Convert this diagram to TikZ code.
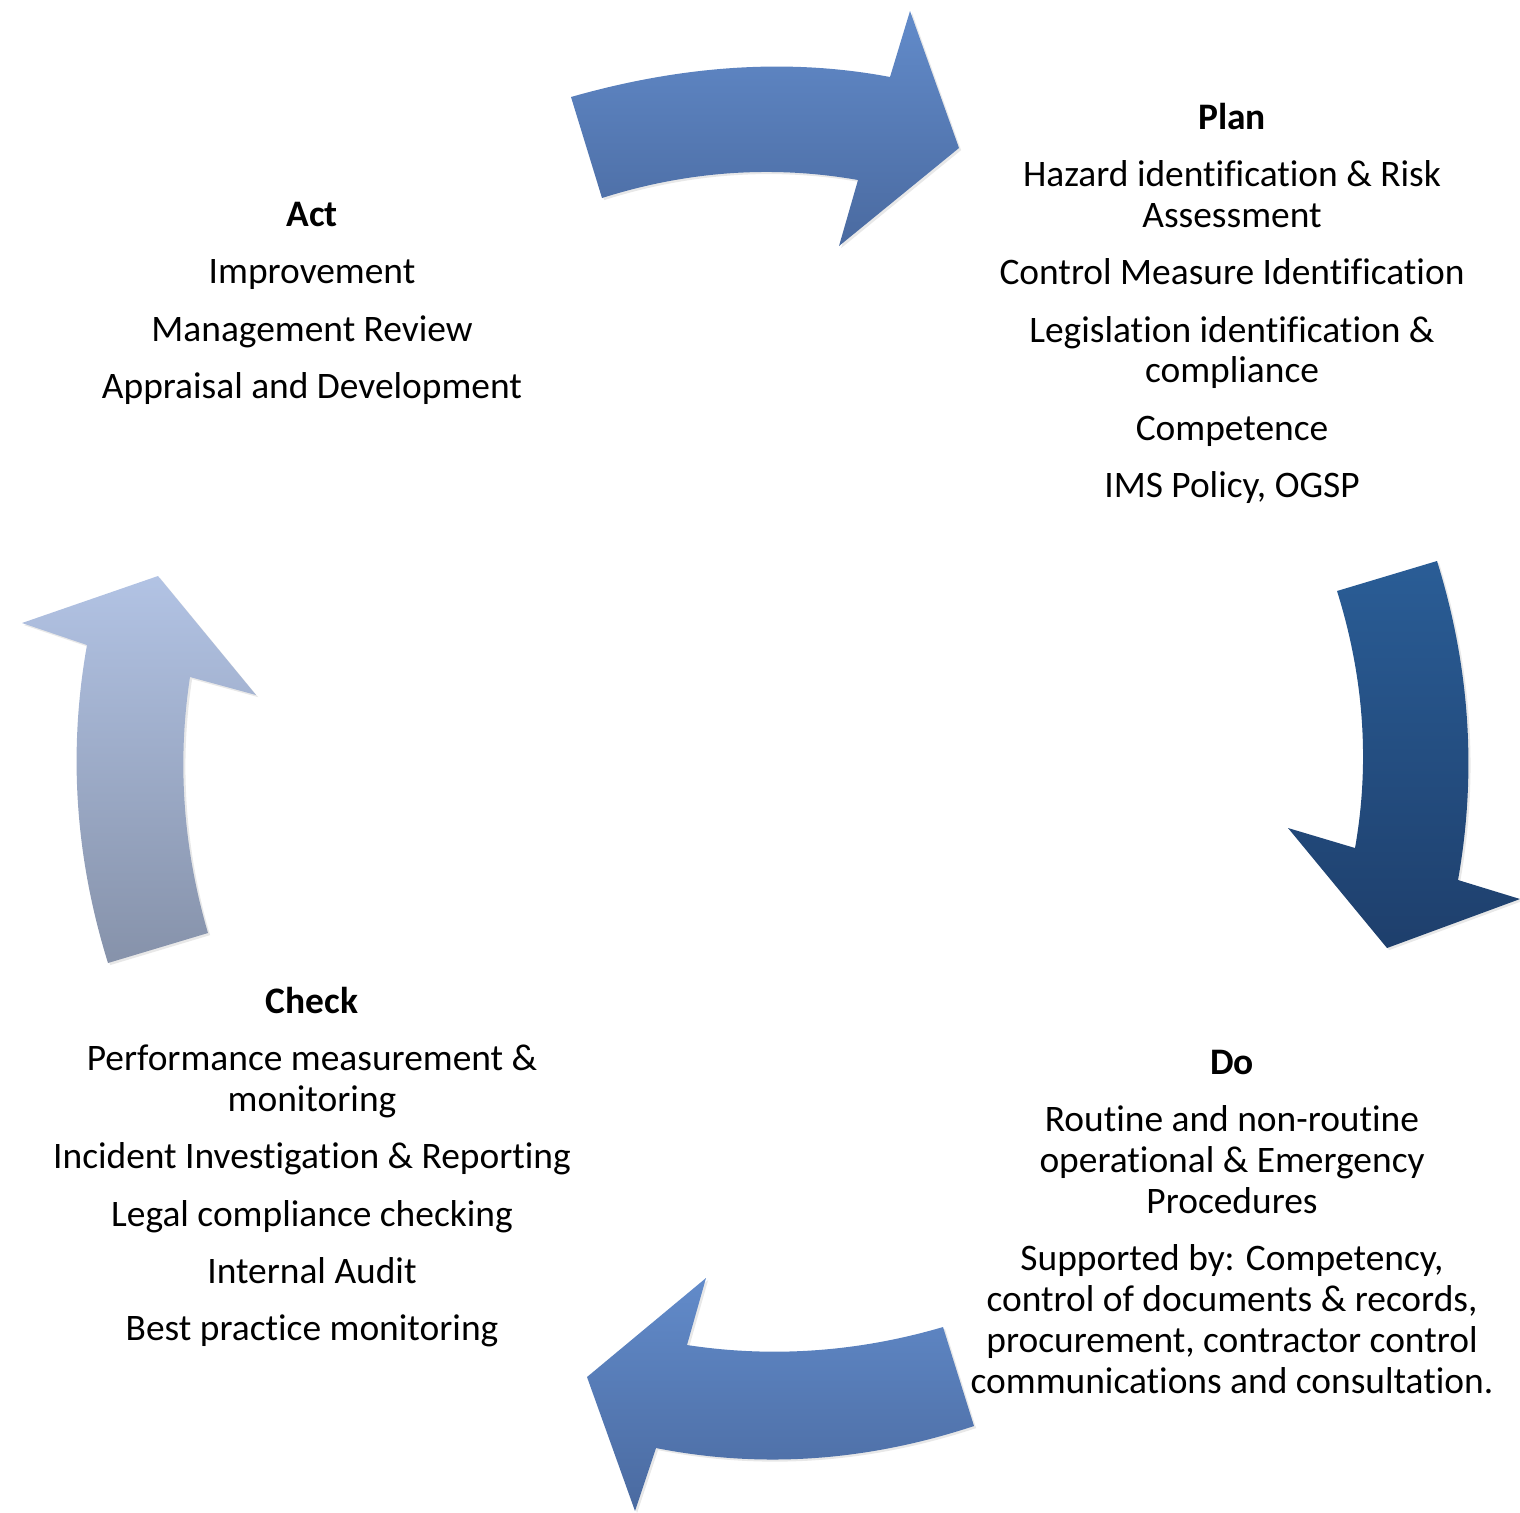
\documentclass[tikz,border=0pt]{standalone}
\usepackage{fontspec}
\setmainfont{Carlito}[Ligatures=CommonOff]
\usepackage{xcolor}
\usetikzlibrary{shadows}
\definecolor{planTop}{RGB}{98,139,202}
\definecolor{planBot}{RGB}{74,106,160}
\definecolor{doTop}{RGB}{42,93,150}
\definecolor{doBot}{RGB}{30,63,108}
\definecolor{actTop}{RGB}{178,195,228}
\definecolor{actBot}{RGB}{134,146,170}
\tikzset{
  % text blocks
  phase/.style={align=center, inner sep=0pt, anchor=north, font=\fontsize{21.3}{23.25}\selectfont},
  % curved block arrows
  bigarrow/.style 2 args={top color=#1, bottom color=#2, draw=none,
    drop shadow={opacity=0.18, shadow xshift=1.2pt, shadow yshift=-1.2pt}},
}
\begin{document}
\begin{tikzpicture}[x=0.02cm, y=-0.02cm]
    \useasboundingbox (0,0) rectangle (1520,1512);

    % Act -> Plan
    \path[bigarrow={planTop}{planBot}] (571,97) .. controls (683,65) and (790,58) .. (890,77)
      -- (910,11) -- (959,148) -- (839,246) -- (858,180)
      .. controls (773,165) and (687,171) .. (602,198) -- cycle;

    % Plan -> Do
    \path[bigarrow={doTop}{doBot}] (1437,561) .. controls (1470,667) and (1477,773) .. (1458,880)
      -- (1520,899) -- (1387,948) -- (1288,828) -- (1355,848)
      .. controls (1370,763) and (1364,677) .. (1337,591) -- cycle;

    % Do -> Check
    \path[bigarrow={planTop}{planBot}] (943,1327) .. controls (858,1352) and (772,1358) .. (687,1345)
      -- (706,1278) -- (587,1377) -- (635,1511) -- (656,1448)
      .. controls (762,1469) and (868,1461) .. (974,1426) -- cycle;

    % Check -> Act
    \path[bigarrow={actTop}{actBot}] (108,963) .. controls (75,857) and (68,751) .. (87,645)
      -- (22,623) -- (158,576) -- (256,695) -- (190,677)
      .. controls (177,762) and (183,848) .. (208,933) -- cycle;

    % Plan
    \node[phase] (plan) at (1232,103) {\textbf{Plan}\\[9.3pt]
      Hazard identification \& Risk\\ Assessment\\[9.3pt]
      Control Measure Identification\\[9.3pt]
      Legislation identification \&\\ compliance\\[9.3pt]
      Competence\\[9.3pt]
      IMS Policy, OGSP};

    % Do
    \node[phase] (do) at (1232,1050) {\textbf{Do}\\[9.3pt]
      Routine and non-routine\\ operational \& Emergency\\ Procedures\\[9.3pt]
      Supported by: Competency,\\ control of documents \& records,\\
      procurement, contractor control\\ communications and consultation.};

    % Check
    \node[phase] (check) at (312,987) {\textbf{Check}\\[9.3pt]
      Performance measurement \&\\ monitoring\\[9.3pt]
      Incident Investigation \& Reporting\\[9.3pt]
      Legal compliance checking\\[9.3pt]
      Internal Audit\\[9.3pt]
      Best practice monitoring};

    % Act
    \node[phase] (act) at (312,202) {\textbf{Act}\\[9.3pt]
      Improvement\\[9.3pt]
      Management Review\\[9.3pt]
      Appraisal and Development};
\end{tikzpicture}
\end{document}
